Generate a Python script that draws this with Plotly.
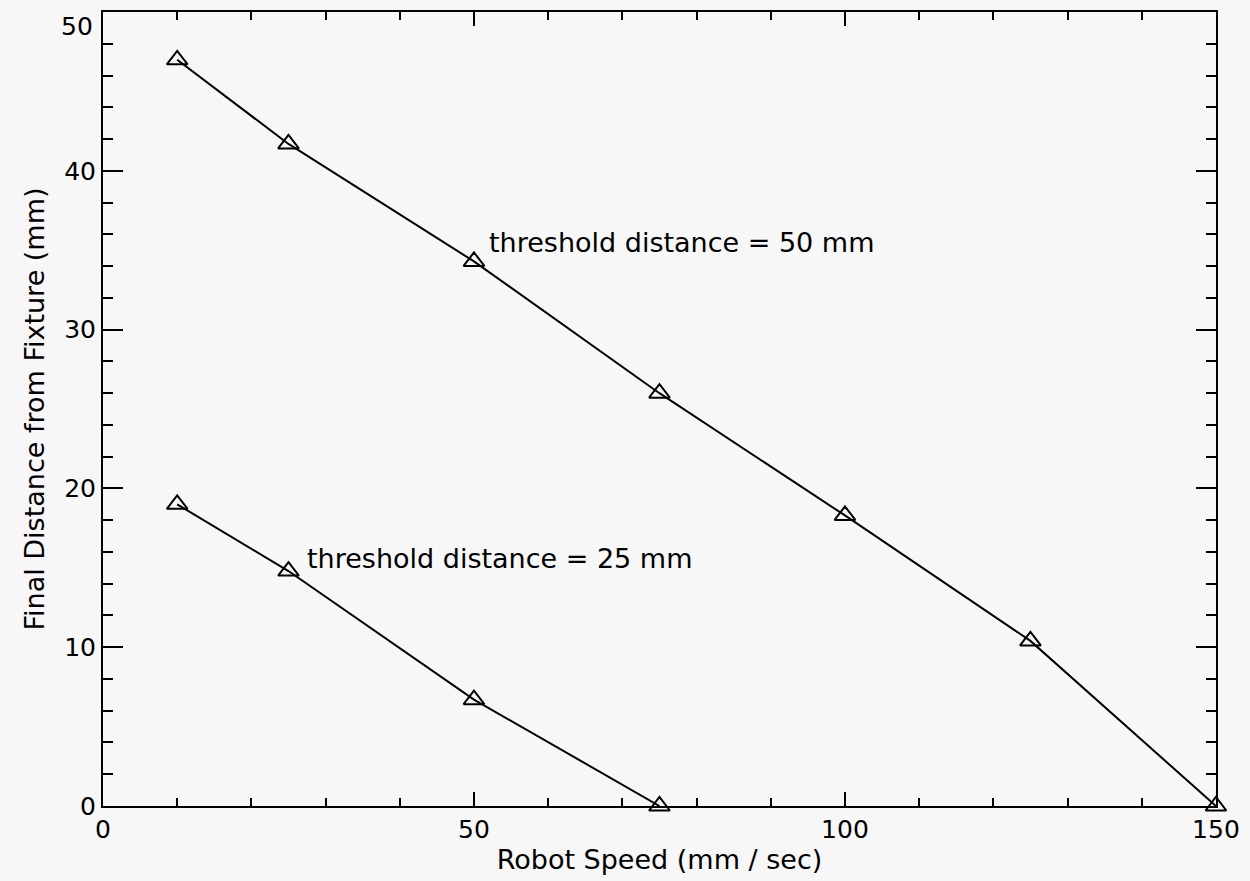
import plotly.graph_objects as go

speed_50 = [10, 25, 50, 75, 100, 125, 150]
dist_50 = [47.0, 41.7, 34.3, 26.0, 18.3, 10.4, 0.0]
speed_25 = [10, 25, 50, 75]
dist_25 = [19.0, 14.8, 6.7, 0.0]

x_ticks = [0, 50, 100, 150]
y_ticks = [0, 10, 20, 30, 40, 50]

label_50 = "threshold distance = 50 mm"
label_25 = "threshold distance = 25 mm"
x_title = "Robot Speed (mm / sec)"
y_title = "Final Distance from Fixture (mm)"

FONT = "DejaVu Sans"
bg = "#f7f7f7"

fig = go.Figure()
for xs, ys in [(speed_50, dist_50), (speed_25, dist_25)]:
    fig.add_trace(go.Scatter(
        x=xs, y=ys, mode="lines+markers",
        line=dict(color="black", width=2),
        marker=dict(symbol="triangle-up-open", size=18, color="black",
                    line=dict(color="black", width=2)),
        showlegend=False, cliponaxis=False,
    ))

fig.add_annotation(x=51.8, y=35.5, text=label_50, showarrow=False,
                   xanchor="left", yanchor="middle",
                   font=dict(family=FONT, size=27, color="black"))
fig.add_annotation(x=27.2, y=15.6, text=label_25, showarrow=False,
                   xanchor="left", yanchor="middle",
                   font=dict(family=FONT, size=27, color="black"))

# top y tick label drawn slightly lower, as in the reference
fig.add_annotation(xref="paper", x=0, y=y_ticks[-1], text=str(y_ticks[-1]),
                   showarrow=False, xanchor="right", yanchor="top",
                   xshift=-8, yshift=2,
                   font=dict(family=FONT, size=25, color="black"))

axis_common = dict(
    showline=True, linecolor="black", linewidth=2, mirror="ticks",
    ticks="inside", tickcolor="black", tickwidth=2,
    showgrid=False, zeroline=False,
    tickfont=dict(family=FONT, size=25, color="black"),
)

fig.update_xaxes(range=[0, 150.01], tickvals=x_ticks, ticklen=14,
                 minor=dict(dtick=10, ticks="inside", ticklen=8,
                            tickcolor="black", tickwidth=2, showgrid=False),
                 title=dict(text=x_title, font=dict(family=FONT, size=27, color="black"),
                            standoff=6),
                 **axis_common)
fig.update_yaxes(range=[0, 50.01], tickvals=y_ticks,
                 ticktext=[str(v) for v in y_ticks[:-1]] + [""], ticklen=20,
                 minor=dict(dtick=2, ticks="inside", ticklen=10,
                            tickcolor="black", tickwidth=2, showgrid=False),
                 title=dict(text=y_title, font=dict(family=FONT, size=27, color="black"),
                            standoff=12),
                 **axis_common)

fig.update_layout(
    width=1250, height=881,
    margin=dict(l=103, r=33, t=10, b=75),
    paper_bgcolor=bg, plot_bgcolor=bg,
    font=dict(family=FONT, color="black"),
)

fig.write_html("out.html", config={"displayModeBar": False},
               post_script="document.body.style.margin='0';"
                           "document.body.style.background='%s';"
                           "document.body.style.overflow='hidden';" % bg)
